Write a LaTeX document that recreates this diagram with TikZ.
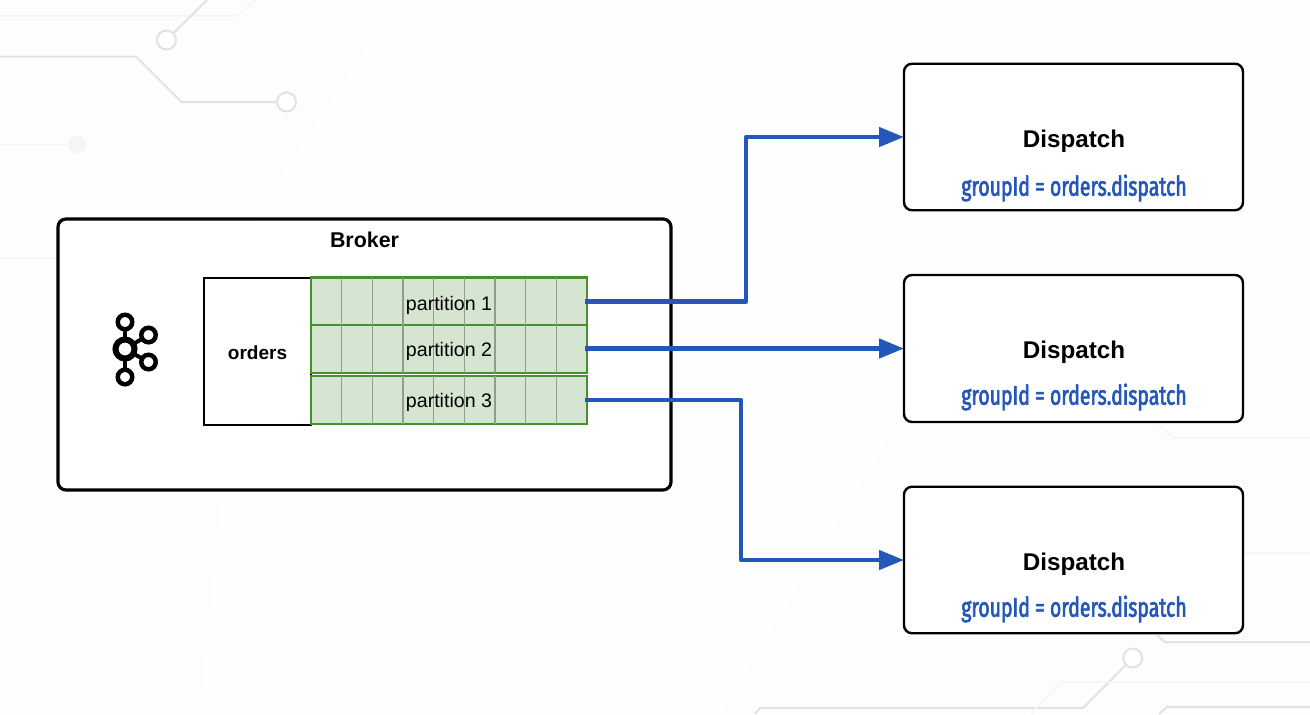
\documentclass[tikz,border=0pt]{standalone}
\usepackage{fontspec}
\setmainfont{Liberation Sans}
\newfontfamily\handfont[FakeStretch=0.72,FakeBold=2.2]{Fira Sans}
\usetikzlibrary{arrows.meta,calc}
\definecolor{cblue}{HTML}{2357B9}
\definecolor{cgreen}{HTML}{478F30}
\definecolor{cfill}{HTML}{D5E5D2}
\definecolor{ccell}{HTML}{8E9F8B}
\definecolor{ctrace}{HTML}{E2E2E2}
\definecolor{cfaint}{HTML}{F5F5F5}
\definecolor{cpaper}{HTML}{FDFDFD}
\definecolor{cbase}{HTML}{FEFEFE}
\tikzset{
  x=0.5pt,y=-0.5pt,
  brokerbox/.style={draw=black,line width=1.6pt,rounded corners=4pt,fill=white,inner sep=0pt,outer sep=0pt,minimum width=306.5pt,minimum height=135.5pt},
  topicbox/.style={draw=black,line width=1.2pt,fill=white,inner sep=0pt,outer sep=0pt,minimum width=53.5pt,minimum height=73.5pt},
  dispatchbox/.style={draw=black,line width=1.2pt,rounded corners=4pt,fill=white,inner sep=0pt,outer sep=0pt,minimum width=169.5pt,minimum height=73.25pt},
  partbox/.style={draw=cgreen,line width=1.3pt,fill=cfill,inner sep=0pt,outer sep=0pt,minimum width=138pt,minimum height=23.75pt},
  cellline/.style={draw=ccell,line width=0.7pt},
  parttext/.style={font=\fontsize{9.8}{11}\selectfont,text=black,inner sep=0pt},
  boldtext/.style={font=\bfseries\fontsize{#1}{14}\selectfont,text=black,inner sep=0pt},
  grouptext/.style={font=\handfont\fontsize{13.5}{15}\selectfont,text=cblue,inner sep=0pt},
  conn/.style={draw=cblue,line width=2.3pt,line join=round,-{Triangle[length=12.5pt,width=9.5pt]}},
  trace/.style={draw=ctrace,line width=1pt},
  tracefaint/.style={draw=cfaint,line width=0.8pt},
  ring/.style={circle,draw=ctrace,line width=1pt,fill=white,minimum size=9.5pt,inner sep=0pt,outer sep=0pt},
  dot/.style={circle,fill=cfaint,minimum size=9pt,inner sep=0pt,outer sep=0pt},
  kbig/.style={circle,draw=black,line width=3pt,fill=white,minimum size=9.5pt,inner sep=0pt,outer sep=0pt},
  ksmall/.style={circle,draw=black,line width=2.25pt,fill=white,minimum size=7.25pt,inner sep=0pt,outer sep=0pt},
  klink/.style={draw=black,line width=2pt},
}
\begin{document}
\begin{tikzpicture}
\useasboundingbox (0,0) rectangle (1310,714);
% background
\fill[cbase] (0,0) rectangle (1310,714);
\fill[cpaper] (0,0) -- (400,0) -- (250,220) -- (200,714) -- (0,714) -- cycle;
\fill[cpaper] (1310,714) -- (720,714) -- (900,420) -- (1310,300) -- cycle;
% circuit traces
\draw[tracefaint] (0,15.7) -- (238,15.7) -- (255,0);
\node[ring] (ra) at (166.5,40) {};
\coordinate (rat) at (207,0);
\draw[trace] (ra) -- (rat);
\node[ring] (rb) at (286.5,102) {};
\coordinate (rbs) at (0,56.5);
\draw[trace] (rbs) -- (136,56.5) -- (181.5,102) -- (rb);
\node[dot] (rc) at (77,144.5) {};
\coordinate (rcs) at (0,144.5);
\draw[tracefaint] (rcs) -- (rc);
\draw[tracefaint] (0,258) -- (58,258);
\node[ring] (rd) at (1132.7,658) {};
\coordinate (rde) at (755,714);
\draw[trace] (rd) -- (1083,708) -- (760,708) -- (rde);
\draw[tracefaint] (1031,714) -- (1060,682) -- (1310,682);
\draw[trace] (1159,714) -- (1167,707) -- (1310,707);
\draw[trace] (1157,635) -- (1165,642) -- (1310,642);
\draw[tracefaint] (1159,425) -- (1173,438) -- (1310,438);
\draw[tracefaint] (1243,553) -- (1310,553);
% broker
\node[brokerbox] (broker) at (364.5,354.5) {};
\node[boldtext=10.7] (brokerlabel) at (364.5,240) {Broker};
% kafka icon
\node[kbig] (kc) at (125,349) {};
\node[ksmall] (kt) at (125,322) {};
\node[ksmall] (kb) at (125,377) {};
\node[ksmall] (kr) at (148.5,335) {};
\node[ksmall] (ks) at (148.5,362) {};
\draw[klink] (kc) -- (kt);
\draw[klink] (kc) -- (kb);
\draw[klink] (kc) -- (kr);
\draw[klink] (kc) -- (ks);
% topic
\node[topicbox] (topic) at (257.5,351.5) {};
\node[boldtext=9.5] (topiclabel) at (257.5,353) {orders};
% partitions
\node[partbox] (rowa) at (449,301.5) {};
\node[partbox,minimum height=24pt] (rowb) at (449,349) {};
\node[partbox,minimum height=24pt] (rowc) at (449,400) {};
\foreach \r in {a,b,c}{
  \foreach \k in {1,...,8}{
    \draw[cellline] ($(row\r.north west)+(\k*30.67,0)$) -- ($(row\r.south west)+(\k*30.67,0)$);
  }
}
\node[parttext] (pa) at (449,305) {partition 1};
\node[parttext] (pb) at (449,351) {partition 2};
\node[parttext] (pc) at (449,402) {partition 3};
% consumers
\node[dispatchbox] (da) at (1073.5,137) {};
\node[dispatchbox,minimum height=73.5pt] (db) at (1073.5,348.5) {};
\node[dispatchbox] (dc) at (1073.5,560) {};
\node[boldtext=12.1] (dal) at (1074,141) {Dispatch};
\node[boldtext=12.1] (dbl) at (1074,352) {Dispatch};
\node[boldtext=12.1] (dcl) at (1074,564) {Dispatch};
\node[grouptext] (gal) at (1074,188) {groupId = orders.dispatch};
\node[grouptext] (gbl) at (1074,397) {groupId = orders.dispatch};
\node[grouptext] (gcl) at (1074,609) {groupId = orders.dispatch};
% connectors
\coordinate (sa) at (585,301.5);
\coordinate (sb) at (585,348.5);
\coordinate (sc) at (585,400);
\coordinate (ba) at (746,137);
\coordinate (bc) at (741,560);
\draw[conn] (sa) -| (ba) -- (da.west);
\draw[conn] (sb) -- (db.west);
\draw[conn] (sc) -| (bc) -- (dc.west);
\end{tikzpicture}
\end{document}
